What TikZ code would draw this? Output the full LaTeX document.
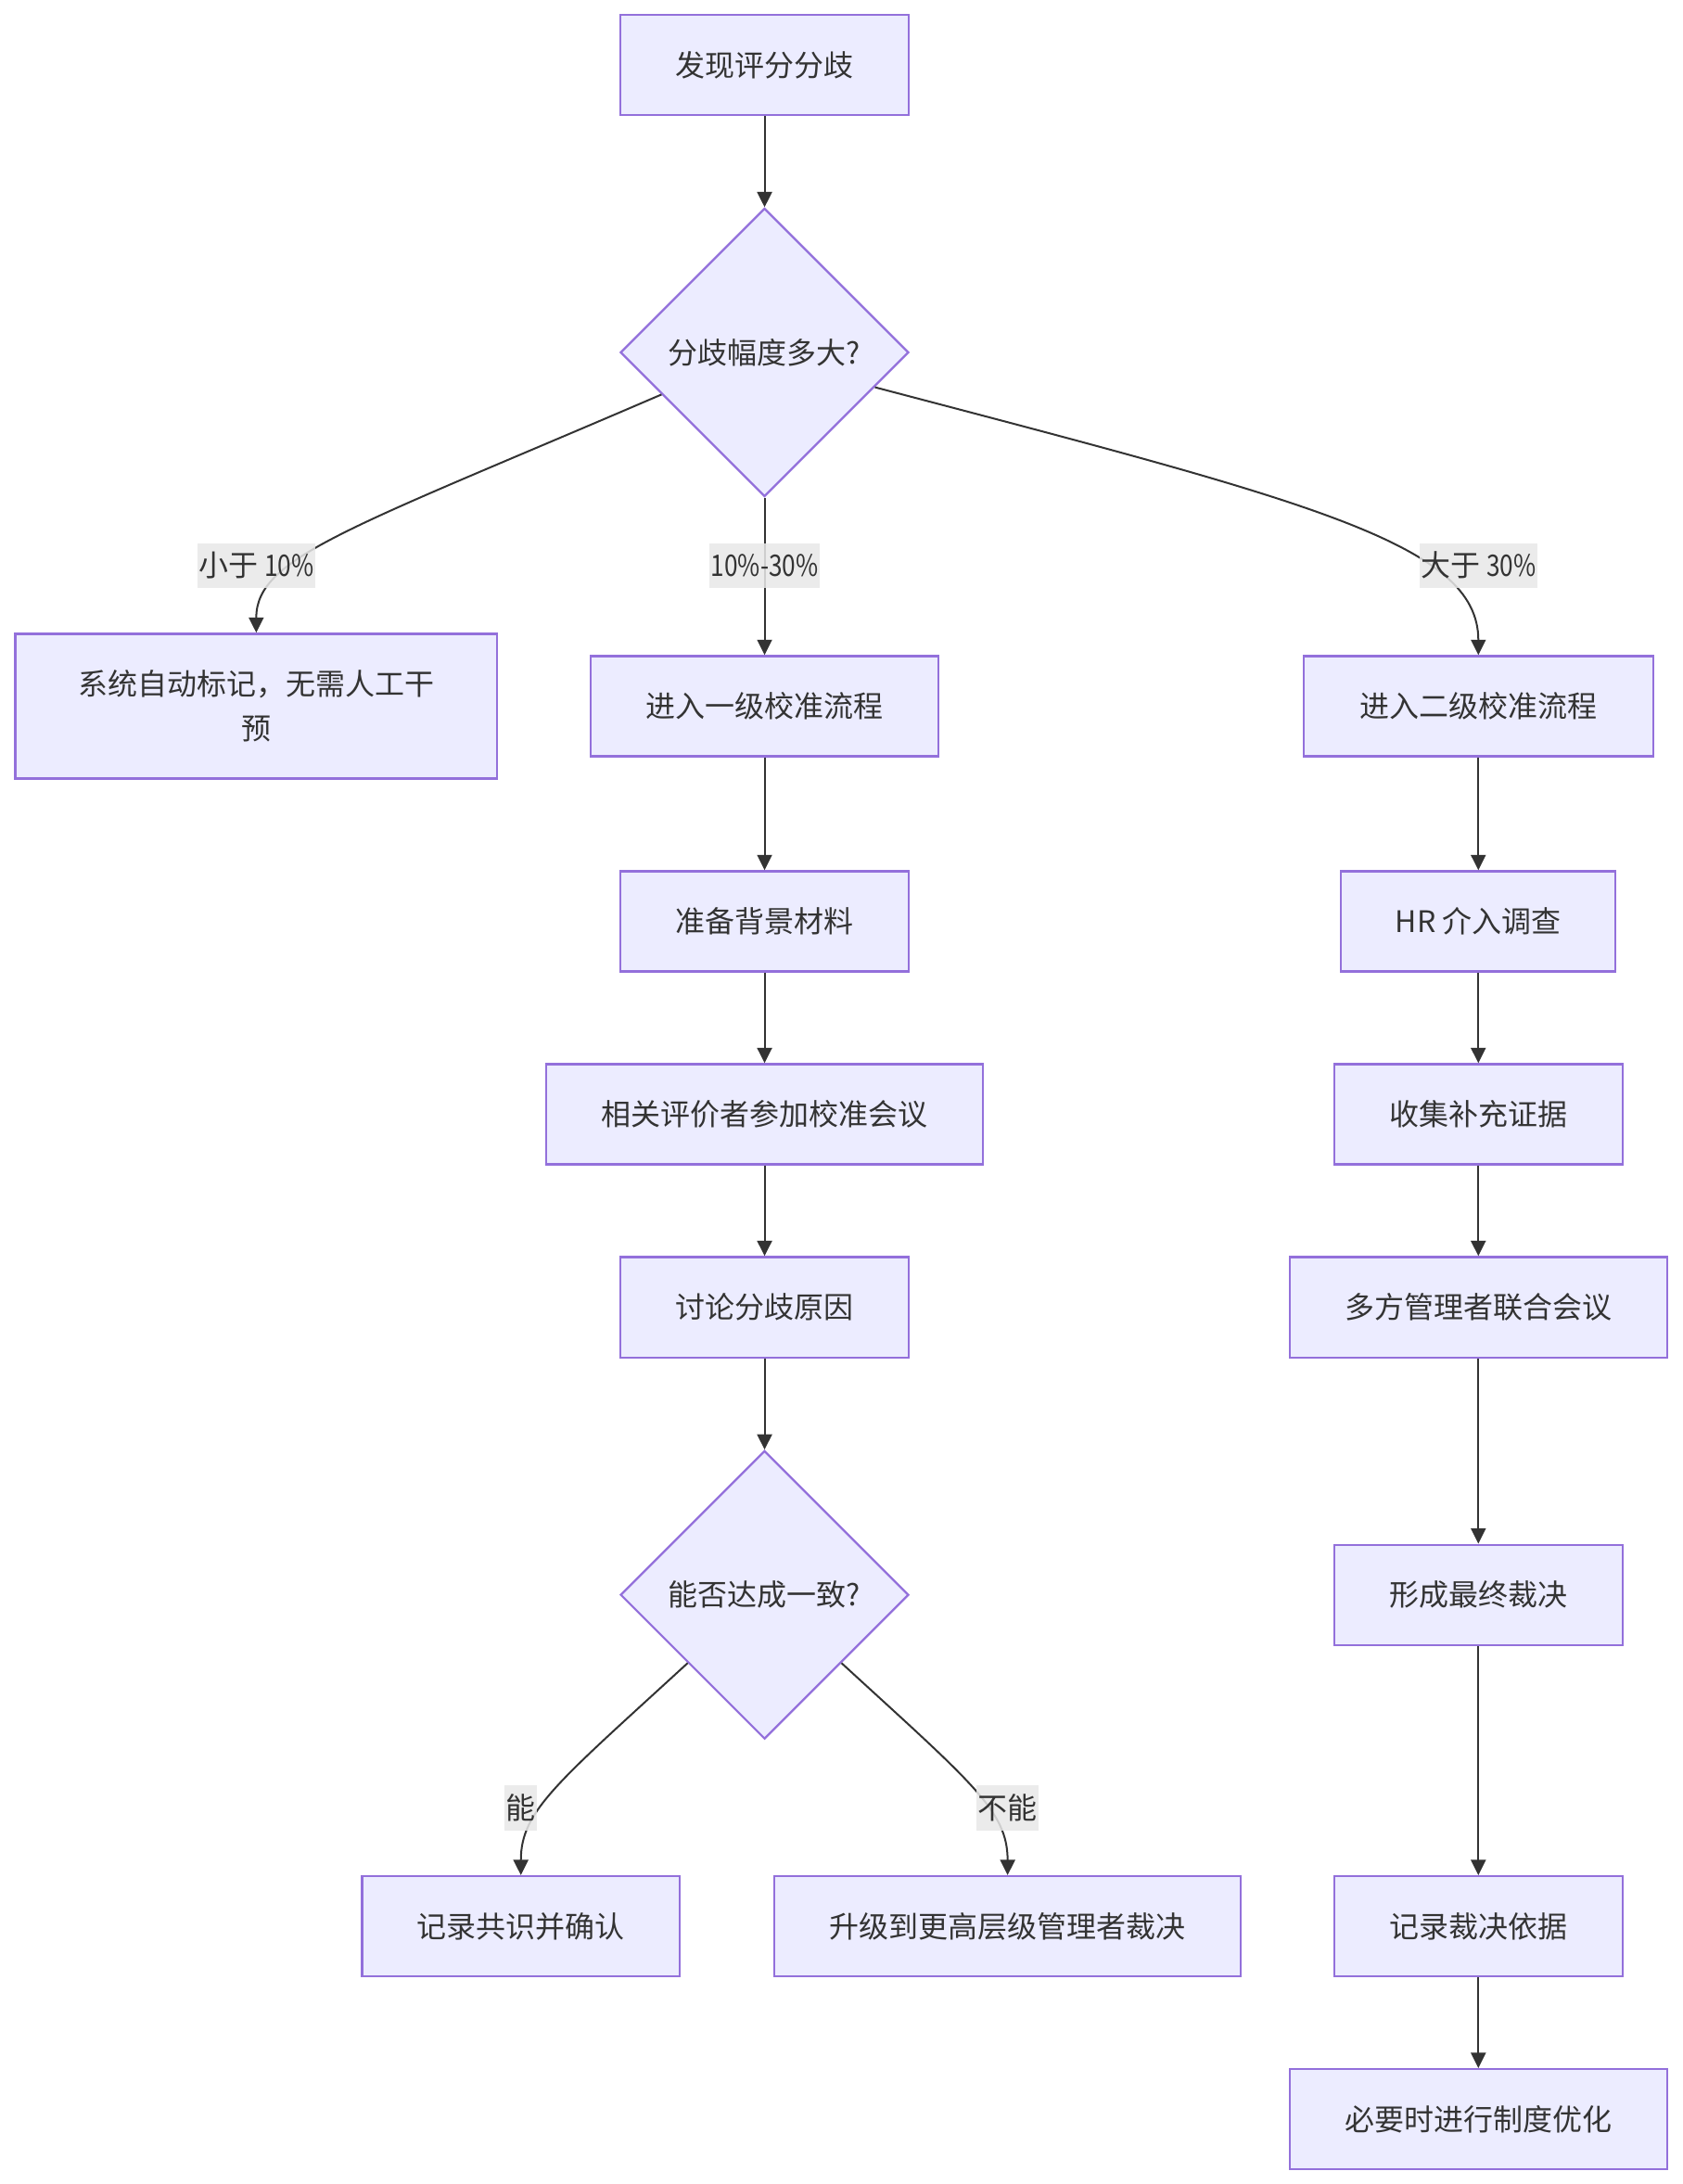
\documentclass[tikz,border=0pt]{standalone}
\usepackage{graphicx}
\usepackage{fontspec}
\setmainfont{Noto Sans CJK SC}
\usetikzlibrary{shapes.geometric,arrows.meta,calc}
\definecolor{nodefill}{HTML}{ECECFF}
\definecolor{nodeline}{HTML}{9370DB}
\definecolor{edgecol}{HTML}{333333}
\definecolor{txtcol}{HTML}{333333}
\definecolor{lblbg}{HTML}{E8E8E8}
\newlength\pxu
\setlength\pxu{0.60066pt}
\newcommand\narrowtxt[1]{\scalebox{0.82}[1]{#1}}
\begin{document}
\begin{tikzpicture}[x=0.60066pt,y=-0.60066pt,
  txt/.style={text=txtcol,font=\fontsize{12.8}{19.2}\selectfont},
  box/.style={txt,draw=nodeline,fill=nodefill,line width=0.9pt,inner sep=0pt,minimum height={72*\pxu},align=center},
  dec/.style={txt,diamond,draw=nodeline,fill=nodefill,line width=0.9pt,inner sep=0pt,minimum width={207*\pxu},minimum height={207*\pxu}},
  edge/.style={draw=edgecol,line width=0.8pt,-{Triangle[length=6.6pt,width=6.4pt]}},
  lbl/.style={txt,fill=lblbg,fill opacity=0.85,text opacity=1,inner xsep=0.5pt,inner ysep=0pt,minimum height={32*\pxu}}]
\path[fill=white,use as bounding box] (0,0) rectangle (1208,1568);
% nodes
\node[box,minimum width={207*\pxu}] (A) at (549,46.5) {发现评分分歧};
\node[dec] (B) at (549,253) {分歧幅度多大?};
\node[box,minimum width={346*\pxu},minimum height={104*\pxu}] (C) at (184,507) {系统自动标记，无需人工干\\预};
\node[box,minimum width={250*\pxu}] (D) at (549,507) {进入一级校准流程};
\node[box,minimum width={251*\pxu}] (E) at (1061.5,507) {进入二级校准流程};
\node[box,minimum width={207*\pxu}] (F) at (549,661.5) {准备背景材料};
\node[box,minimum width={197*\pxu}] (G) at (1061.5,661.5) {HR 介入调查};
\node[box,minimum width={314*\pxu}] (H) at (549,800) {相关评价者参加校准会议};
\node[box,minimum width={207*\pxu}] (I) at (1061.5,800) {收集补充证据};
\node[box,minimum width={207*\pxu}] (J) at (549,938.5) {讨论分歧原因};
\node[box,minimum width={271*\pxu}] (K) at (1061.5,938.5) {多方管理者联合会议};
\node[dec] (L) at (549,1145) {能否达成一致?};
\node[box,minimum width={207*\pxu}] (M) at (1061.5,1145) {形成最终裁决};
\node[box,minimum width={228*\pxu}] (N) at (374,1383) {记录共识并确认};
\node[box,minimum width={335*\pxu}] (O) at (723.5,1383) {升级到更高层级管理者裁决};
\node[box,minimum width={207*\pxu}] (P) at (1061.5,1383) {记录裁决依据};
\node[box,minimum width={271*\pxu}] (Q) at (1061.5,1521.5) {必要时进行制度优化};
% edges
\draw[edge] (A.south) -- (B.north);
\draw[edge] ($(B.west)!0.29!(B.south)$) .. controls (250,380) and (184,400) .. (C.north);
\draw[edge] (B.south) -- (D.north);
\draw[edge] ($(B.east)!0.24!(B.south)$) .. controls (940,360) and (1061.5,390) .. (E.north);
\draw[edge] (D.south) -- (F.north);
\draw[edge] (F.south) -- (H.north);
\draw[edge] (H.south) -- (J.north);
\draw[edge] (J.south) -- (L.north);
\draw[edge] ($(L.west)!0.47!(L.south)$) .. controls (400,1280) and (374,1300) .. (N.north);
\draw[edge] ($(L.east)!0.47!(L.south)$) .. controls (698,1280) and (723.5,1300) .. (O.north);
\draw[edge] (E.south) -- (G.north);
\draw[edge] (G.south) -- (I.north);
\draw[edge] (I.south) -- (K.north);
\draw[edge] (K.south) -- (M.north);
\draw[edge] (M.south) -- (P.north);
\draw[edge] (P.south) -- (Q.north);
% labels
\node[lbl] (l1) at (184,406) {小于 \narrowtxt{10\%}};
\node[lbl] (l2) at (549,406) {\narrowtxt{10\%-30\%}};
\node[lbl] (l3) at (1061.5,406) {大于 \narrowtxt{30\%}};
\node[lbl] (l4) at (374,1298) {能};
\node[lbl] (l5) at (723.5,1298) {不能};
\end{tikzpicture}
\end{document}
